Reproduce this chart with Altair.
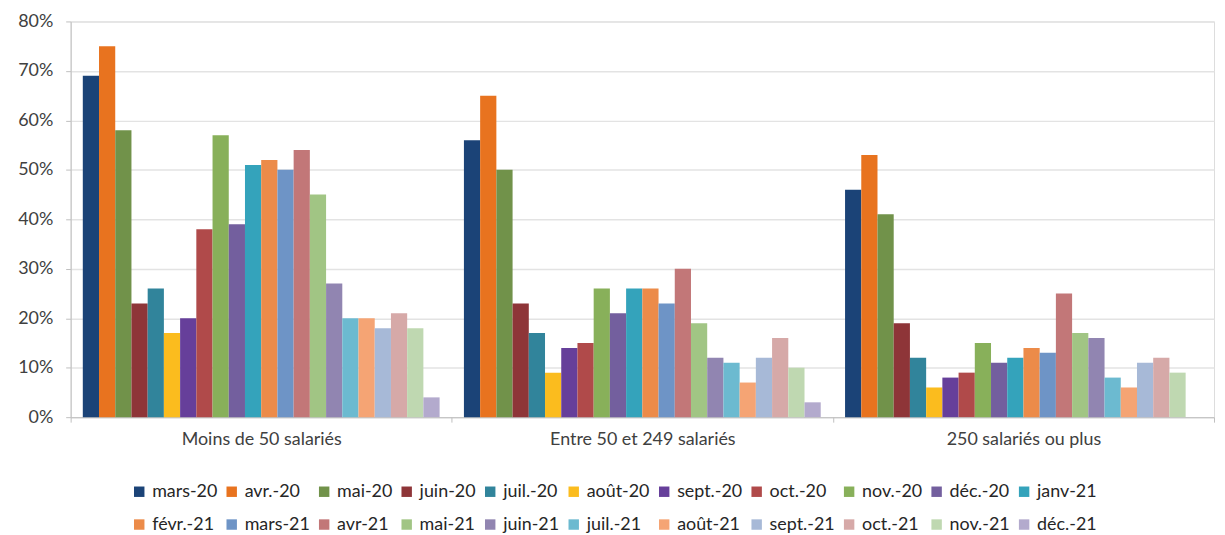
import altair as alt
import pandas as pd

groups = ["Moins de 50 salariés", "Entre 50 et 249 salariés", "250 salariés ou plus"]
months = ["mars-20", "avr.-20", "mai-20", "juin-20", "juil.-20", "août-20", "sept.-20",
          "oct.-20", "nov.-20", "déc.-20", "janv-21", "févr.-21", "mars-21", "avr-21",
          "mai-21", "juin-21", "juil.-21", "août-21", "sept.-21", "oct.-21", "nov.-21", "déc.-21"]
colors = ["#1b4377", "#e8731f", "#71924a", "#8e3538", "#31849b", "#fbbc1e", "#663f9a",
          "#b04a4a", "#88b05a", "#735f9e", "#34a3bb", "#ec8b49", "#6e94c6", "#c27778",
          "#a1c584", "#9185b1", "#6cbad0", "#f5a474", "#a7b9d7", "#d6a9a8", "#bfd8b1", "#b3aacd"]

moins50 = [69, 75, 58, 23, 26, 17, 20, 38, 57, 39, 51, 52, 50, 54, 45, 27, 20, 20, 18, 21, 18, 4]
entre50_249 = [56, 65, 50, 23, 17, 9, 14, 15, 26, 21, 26, 26, 23, 30, 19, 12, 11, 7, 12, 16, 10, 3]
plus250 = [46, 53, 41, 19, 12, 6, 8, 9, 15, 11, 12, 14, 13, 25, 17, 16, 8, 6, 11, 12, 9, None]

rows = []
for g, vals in zip(groups, [moins50, entre50_249, plus250]):
    for m, v in zip(months, vals):
        if v is not None:
            rows.append({"groupe": g, "mois": m, "valeur": v / 100})
df = pd.DataFrame(rows)

FONT = "Lato"
chart = alt.Chart(df).mark_bar().encode(
    x=alt.X("groupe:N", sort=groups, title=None,
            scale=alt.Scale(paddingInner=0, paddingOuter=0),
            axis=alt.Axis(labelAngle=0, labelFontSize=18, labelColor="#404040", labelFont=FONT,
                          domainColor="#bfbfbf", tickColor="#bfbfbf", tickBand="extent",
                          tickSize=5, labelPadding=8, labelLimit=500)),
    xOffset=alt.XOffset("mois:N", sort=months,
                        scale=alt.Scale(domain=months, paddingInner=0, paddingOuter=0.75)),
    y=alt.Y("valeur:Q", title=None,
            scale=alt.Scale(domain=[0, 0.8], nice=False),
            axis=alt.Axis(format=".0%", values=[0, 0.1, 0.2, 0.3, 0.4, 0.5, 0.6, 0.7, 0.8],
                          labelFontSize=18, labelColor="#404040", labelFont=FONT,
                          domainColor="#bfbfbf", tickColor="#bfbfbf", tickSize=5,
                          labelPadding=13, gridColor="#e3e3e3", gridWidth=1.5)),
    color=alt.Color("mois:N", sort=months,
                    scale=alt.Scale(domain=months, range=colors),
                    legend=alt.Legend(title=None, orient="none", legendX=60, legendY=464,
                                      direction="horizontal",
                                      columns=11, symbolType="square", symbolSize=110,
                                      symbolStrokeWidth=0, labelFontSize=18, labelFont=FONT,
                                      labelColor="#262626", columnPadding=5, rowPadding=15,
                                      labelOffset=4, labelLimit=200)),
).properties(
    width=1150, height=398,
    padding={"left": 9, "top": 3, "right": 2, "bottom": 2},
).configure_view(stroke=None).configure(background="white")

chart.save("out.html", embed_options={"renderer": "svg", "actions": False})
